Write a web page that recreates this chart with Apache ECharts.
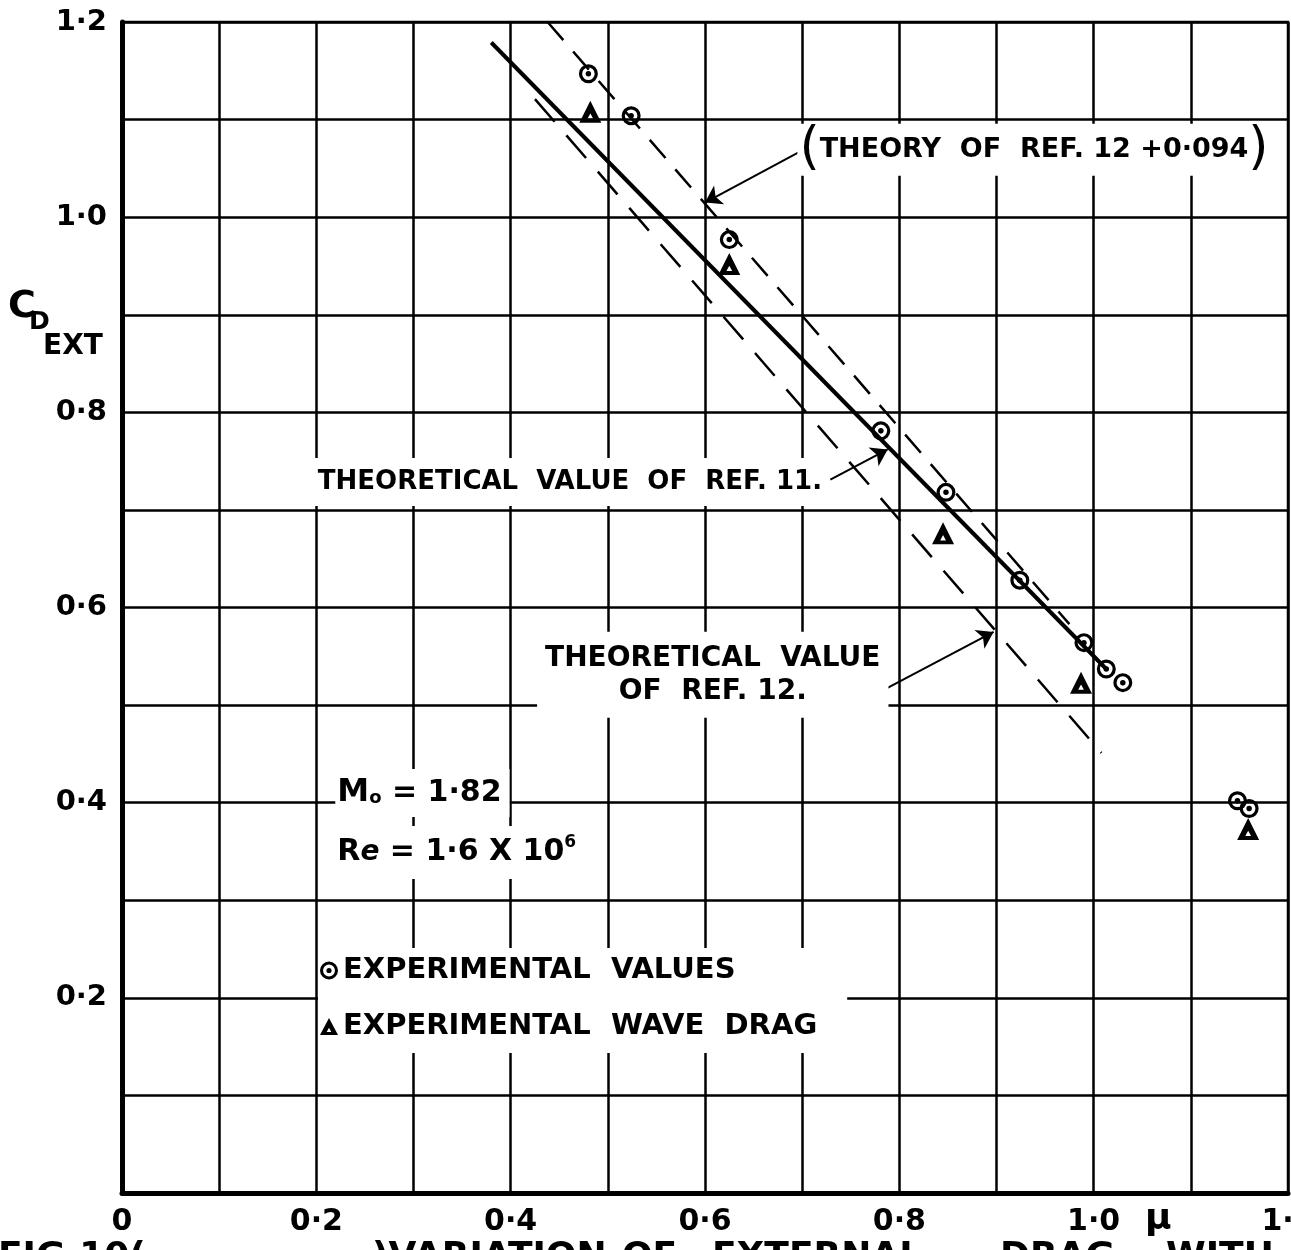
<!DOCTYPE html>
<html><head><meta charset="utf-8">
<script src="https://cdn.jsdelivr.net/npm/echarts@6/dist/echarts.min.js"></script>
<style>html,body{margin:0;padding:0;background:#fff}#c{width:1291px;height:1250px}</style>
</head><body><div id="c"></div>
<script>
// ---- tick labels ----
const xTicks = [0, 0.2, 0.4, 0.6, 0.8, 1.0, 1.2];
const xTickLabels = ['0', '0·2', '0·4', '0·6', '0·8', '1·0', '1·2'];
const yTicks = [0.2, 0.4, 0.6, 0.8, 1.0, 1.2];
const yTickLabels = ['0·2', '0·4', '0·6', '0·8', '1·0', '1·2'];

// ---- experimental values (circles) ----
const expMu = [0.480, 0.524, 0.625, 0.781, 0.848, 0.924, 0.990, 1.013, 1.030, 1.148, 1.160];
const expCd = [1.147, 1.104, 0.977, 0.781, 0.718, 0.628, 0.564, 0.537, 0.523, 0.402, 0.394];

// ---- experimental wave drag (triangles) ----
const waveMu = [0.482, 0.625, 0.845, 0.987, 1.159];
const waveCd = [1.108, 0.952, 0.676, 0.523, 0.373];

// ---- theory lines (end points) ----
const ref11Mu = [0.380, 1.013];
const ref11Cd = [1.179, 0.537];
const ref12Mu = [0.425, 1.008];
const ref12Cd = [1.121, 0.451];
const ref12PlusMu = [0.438, 0.975];
const ref12PlusCd = [1.200, 0.583];

// ---- annotation texts ----
const seriesNames = ['EXPERIMENTAL  VALUES', 'EXPERIMENTAL  WAVE  DRAG'];
const txtRef12Plus = 'THEORY  OF  REF. 12 +0·094';
const txtRef11 = 'THEORETICAL  VALUE  OF  REF. 11.';
const txtRef12 = 'THEORETICAL  VALUE\nOF  REF. 12.';

const FONT = 'DejaVu Sans';
const ring = 'path://M0,-10A10,10,0,1,1,0,10A10,10,0,1,1,0,-10ZM0,-6.6A6.6,6.6,0,1,0,0,6.6A6.6,6.6,0,1,0,0,-6.6ZM0,-2.9A2.9,2.9,0,1,1,0,2.9A2.9,2.9,0,1,1,0,-2.9Z';
const tri = 'path://M0,-11L10,8L-10,8ZM0,0L-2.6,4.6L2.6,4.6Z';

function pairs(a, b) { return a.map((v, i) => [v, b[i]]); }
function tickFmt(ticks, labels) {
  return v => { const i = ticks.findIndex(t => Math.abs(t - v) < 1e-6); return i >= 0 ? labels[i] : ''; };
}
const txt = { color: '#000', fontFamily: FONT, fontWeight: 'bold', fontSize: 26, opacity: 1 };
function boxLabel(extra) {
  return Object.assign({ show: true, position: 'inside', backgroundColor: '#fff' }, txt, extra);
}

const chart = echarts.init(document.getElementById('c'), null, { renderer: 'canvas' });
chart.setOption({
  animation: false,
  backgroundColor: '#fff',
  grid: { left: 122, right: 3, top: 22, bottom: 57, containLabel: false, outerBoundsMode: 'none',
          show: true, borderColor: '#000', borderWidth: 2.5 },
  xAxis: {
    type: 'value', min: 0, max: 1.2, interval: 0.1,
    axisLine: { show: true, onZero: false, lineStyle: { color: '#000', width: 5 } },
    axisTick: { show: false },
    splitLine: { show: true, lineStyle: { color: '#000', width: 2.5 } },
    axisLabel: { formatter: tickFmt(xTicks, xTickLabels), margin: 14, color: '#000',
                 fontFamily: FONT, fontWeight: 'bold', fontSize: 30, showMaxLabel: true, showMinLabel: true }
  },
  yAxis: {
    type: 'value', min: 0, max: 1.2, interval: 0.1,
    axisLine: { show: true, onZero: false, lineStyle: { color: '#000', width: 5 } },
    axisTick: { show: false },
    splitLine: { show: true, lineStyle: { color: '#000', width: 2.5 } },
    axisLabel: { formatter: tickFmt(yTicks, yTickLabels), margin: 15, color: '#000',
                 fontFamily: FONT, fontWeight: 'bold', fontSize: 29 }
  },
  legend: {
    orient: 'vertical', left: 318, top: 948, itemGap: 27, itemWidth: 18, itemHeight: 18,
    selectedMode: false, backgroundColor: '#fff', padding: [8, 30, 12, 2],
    textStyle: Object.assign({}, txt, { fontSize: 29 }),
    data: [{ name: seriesNames[0], icon: ring }, { name: seriesNames[1], icon: tri }]
  },
  series: [
    { type: 'line', name: 'ref11', data: pairs(ref11Mu, ref11Cd), symbol: 'none', silent: true, z: 3,
      lineStyle: { color: '#000', width: 4 } },
    { type: 'line', name: 'ref12', data: pairs(ref12Mu, ref12Cd), symbol: 'none', silent: true, z: 3,
      lineStyle: { color: '#000', width: 2.5, type: [30, 18] } },
    { type: 'line', name: 'ref12plus', data: pairs(ref12PlusMu, ref12PlusCd), symbol: 'none', silent: true, z: 3,
      lineStyle: { color: '#000', width: 2.5, type: [24, 15] } },
    { type: 'scatter', name: seriesNames[0], data: pairs(expMu, expCd), symbol: ring, symbolSize: 19,
      itemStyle: { color: '#000', opacity: 1 }, z: 6, silent: true },
    { type: 'scatter', name: seriesNames[1], data: pairs(waveMu, waveCd), symbol: tri, symbolSize: 22,
      itemStyle: { color: '#000', opacity: 1 }, z: 6, silent: true },
    { type: 'scatter', name: 'notes', symbolSize: 1, itemStyle: { color: 'rgba(0,0,0,0)', opacity: 1 }, silent: true, z: 5,
      data: [
        { value: [0.9386, 1.069], label: boxLabel({ formatter: '{p|(}{t|' + txtRef12Plus + '}{p|)}', padding: [0, 2],
            rich: { p: { fontSize: 52, fontWeight: 'normal', fontFamily: FONT, color: '#000' },
                    t: { fontSize: 27, fontWeight: 'bold', fontFamily: FONT, color: '#000' } } }) },
        { value: [0.461, 0.7286], label: boxLabel({ formatter: txtRef11, padding: [11, 6] }) },
        { value: [0.608, 0.531], label: boxLabel({ formatter: txtRef12, padding: [10, 8], fontSize: 28, lineHeight: 33, align: 'center' }) },
        { value: [0.219, 0.410], label: boxLabel({ position: 'right', distance: 0, formatter: '{m|M}{o|o} = 1·82', padding: [8, 8, 8, 2],
            rich: { m: { fontSize: 32, fontWeight: 'bold', fontFamily: FONT, color: '#000' }, o: { fontSize: 18, fontWeight: 'bold', fontFamily: FONT, color: '#000', padding: [10, 0, 0, 0] } }, fontSize: 30 }) },
        { value: [0.219, 0.349], label: boxLabel({ position: 'right', distance: 0, formatter: 'R{e|e} = 1·6 X 10{s|6}', padding: [8, 8, 8, 2], fontSize: 30,
            rich: { e: { fontSize: 28, fontStyle: 'italic', fontWeight: 'bold', fontFamily: FONT, color: '#000' }, s: { fontSize: 17, fontWeight: 'bold', fontFamily: FONT, color: '#000', padding: [0, 0, 20, 0] } } }) }
      ],
      markLine: {
        silent: true, symbol: ['none', 'arrow'], symbolSize: 16, label: { show: false },
        lineStyle: { color: '#000', width: 2, type: 'solid', opacity: 1 },
        data: [
          [{ coord: [0.703, 1.070] }, { coord: [0.600, 1.015] }],
          [{ coord: [0.729, 0.731] }, { coord: [0.788, 0.762] }],
          [{ coord: [0.783, 0.515] }, { coord: [0.897, 0.575] }]
        ]
      }
    }
  ],
  graphic: [
    { type: 'text', x: 8, y: 307, style: { text: 'C', font: 'bold 38px ' + FONT, fill: '#000', textVerticalAlign: 'middle' } },
    { type: 'text', x: 29, y: 322, style: { text: 'D', font: 'bold 25px ' + FONT, fill: '#000', textVerticalAlign: 'middle' } },
    { type: 'text', x: 43, y: 347, style: { text: 'EXT', font: 'bold 28px ' + FONT, fill: '#000', textVerticalAlign: 'middle' } },
    { type: 'text', x: 1145, y: 1220, style: { text: 'μ', font: 'bold 36px ' + FONT, fill: '#000', textVerticalAlign: 'middle' } },
    { type: 'text', x: -2, y: 1240, style: { text: 'FIG.10(', font: 'bold 36px ' + FONT, fill: '#000' } },
    { type: 'text', x: 372, y: 1240, style: { text: ')VARIATION', font: 'bold 36px ' + FONT, fill: '#000' } },
    { type: 'text', x: 622, y: 1240, style: { text: 'OF', font: 'bold 36px ' + FONT, fill: '#000' } },
    { type: 'text', x: 712, y: 1240, style: { text: 'EXTERNAL', font: 'bold 36px ' + FONT, fill: '#000' } },
    { type: 'text', x: 1000, y: 1240, style: { text: 'DRAG', font: 'bold 36px ' + FONT, fill: '#000' } },
    { type: 'text', x: 1166, y: 1240, style: { text: 'WITH', font: 'bold 36px ' + FONT, fill: '#000' } }
  ]
});
</script>
</body></html>
